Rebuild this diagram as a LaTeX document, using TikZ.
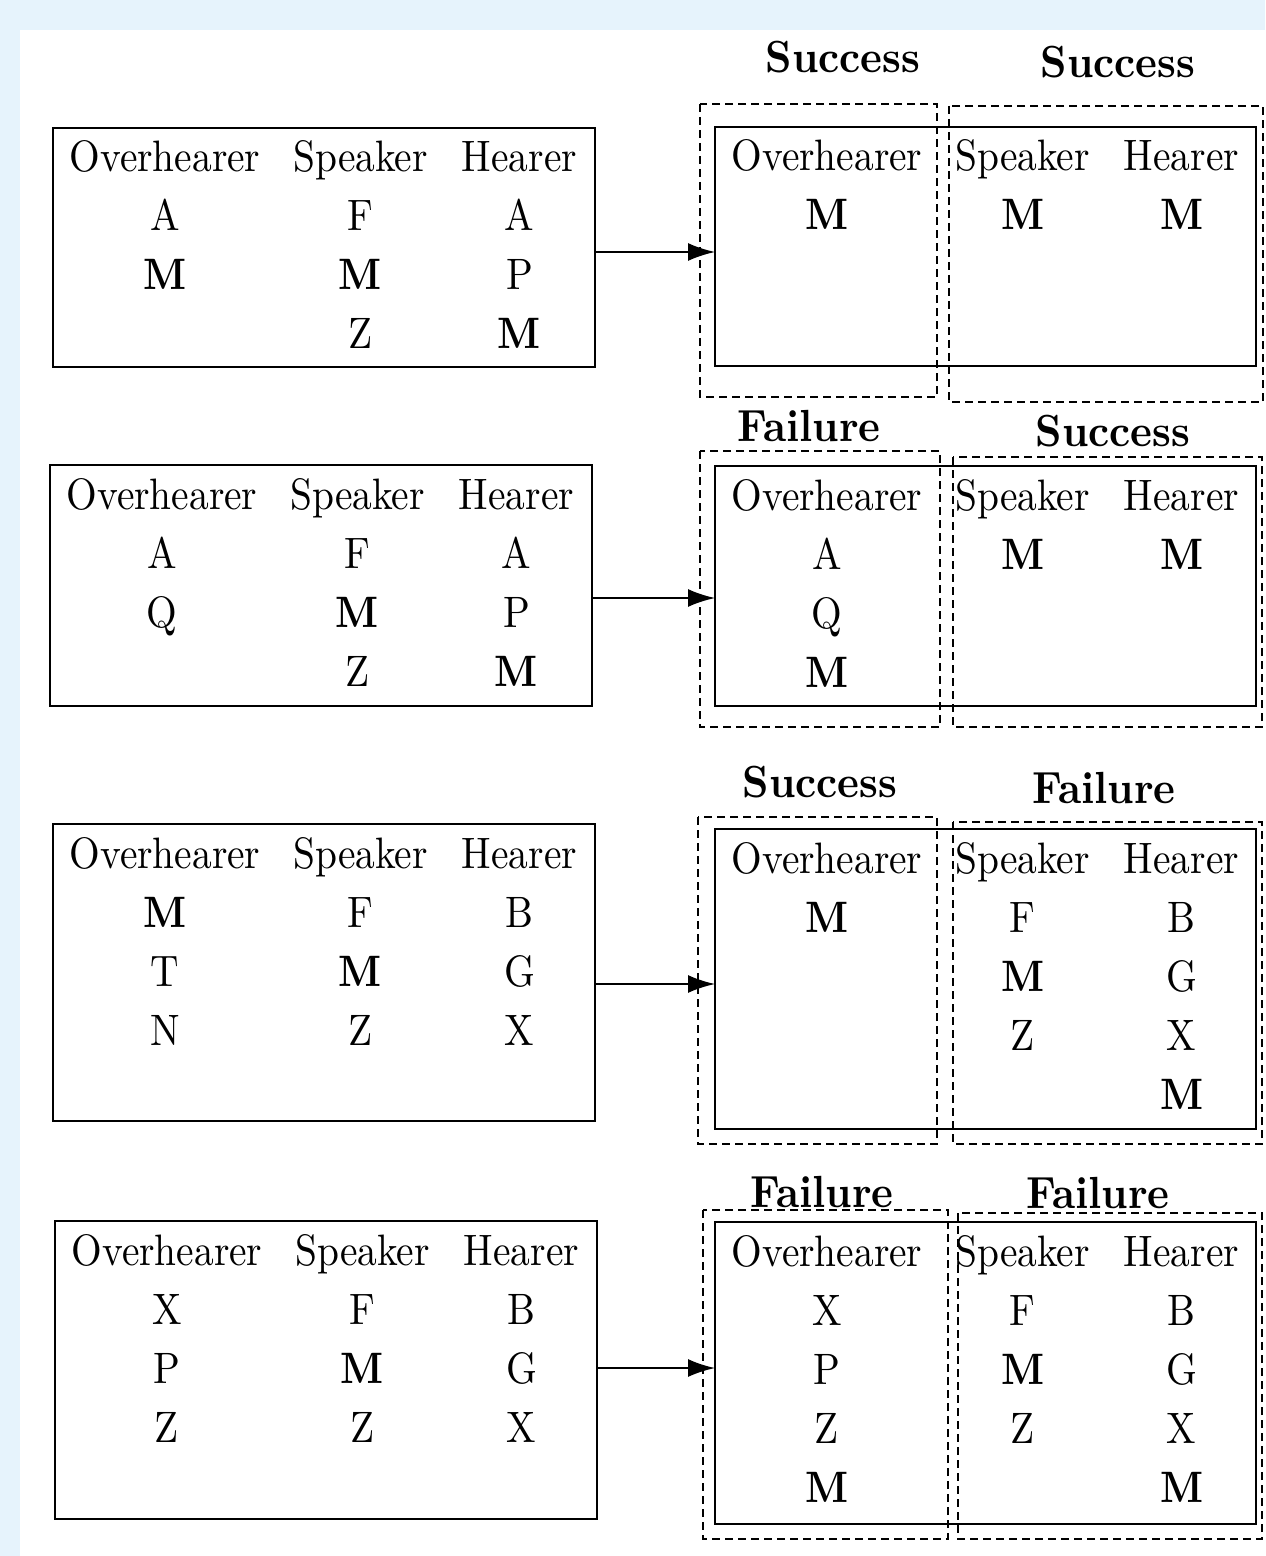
\documentclass[tikz,border=0pt]{standalone}
\usepackage{tikz}
\usetikzlibrary{arrows.meta,positioning}
\definecolor{pagebg}{HTML}{E6F3FC}

% text is set at 10pt and blown up, as in the screenshot
\newcommand{\tall}[1]{\scalebox{1.97}[2.2]{#1}}
\newcommand{\loud}[1]{\scalebox{2.07}[2.25]{\bfseries #1}}
% one column of a table, rows 59 apart below the header
\newcommand{\entries}[3]{\foreach \w [count=\i] in {#3} \node[cell] (#1\i) at (#2,{44+59*\i}) {\tall{\w}};}
\newcommand{\heads}[1]{\foreach \x/\w [count=\i] in {112/Overhearer,307.5/Speaker,466.5/Hearer} \node[cell] (#1h\i) at (\x,44) {\tall{\w}};}

\begin{document}
\begin{tikzpicture}[x=0.5pt,y=-0.5pt,font=\fontsize{10}{12}\selectfont,
	box/.style={draw,line width=1pt,inner sep=0pt,outer sep=0pt},
	part/.style={draw,line width=0.9pt,dash pattern=on 4pt off 2.5pt},
	cell/.style={anchor=base,inner sep=0pt},
	verdict/.style={anchor=base,inner sep=0pt},
	every edge/.style={draw,line width=1pt,-{Latex[length=13.5pt,width=9pt]}}]

	\fill[pagebg] (0,0) rectangle (1265,1556);
	\fill[white] (20,30) rectangle (1265,1556);
	\useasboundingbox (0,0) rectangle (1265,1556);

	% before
	\node[box,minimum width=271pt,minimum height=119.5pt] (t_1) at (324,247.5) {};
	\node[box,minimum width=271pt,minimum height=120.5pt] (t_2) at (321,585.5) {};
	\node[box,minimum width=271pt,minimum height=148.5pt] (t_3) at (324,972.5) {};
	\node[box,minimum width=271pt,minimum height=149pt] (t_4) at (326,1370) {};

	% after
	\node[box,minimum width=270.5pt,minimum height=119.5pt] (r_1) at (985.5,246.5) {};
	\node[box,minimum width=270.5pt,minimum height=120pt] (r_2) at (985.5,586) {};
	\node[box,minimum width=270.5pt,minimum height=150pt] (r_3) at (985.5,979) {};
	\node[box,minimum width=270.5pt,minimum height=151pt] (r_4) at (985.5,1373) {};

	\begin{scope}[shift={(53,128)}]
		\heads{t_1}
		\entries{t_1a}{112}{A,\textbf{M}}
		\entries{t_1b}{307.5}{F,\textbf{M},Z}
		\entries{t_1c}{466.5}{A,P,\textbf{M}}
	\end{scope}
	\begin{scope}[shift={(50,465)}]
		\heads{t_2}
		\entries{t_2a}{112}{A,Q}
		\entries{t_2b}{307.5}{F,\textbf{M},Z}
		\entries{t_2c}{466.5}{A,P,\textbf{M}}
	\end{scope}
	\begin{scope}[shift={(53,824)}]
		\heads{t_3}
		\entries{t_3a}{112}{\textbf{M},T,N}
		\entries{t_3b}{307.5}{F,\textbf{M},Z}
		\entries{t_3c}{466.5}{B,G,X}
	\end{scope}
	\begin{scope}[shift={(55,1221)}]
		\heads{t_4}
		\entries{t_4a}{112}{X,P,Z}
		\entries{t_4b}{307.5}{F,\textbf{M},Z}
		\entries{t_4c}{466.5}{B,G,X}
	\end{scope}

	\begin{scope}[shift={(715,127)}]
		\heads{r_1}
		\entries{r_1a}{112}{\textbf{M}}
		\entries{r_1b}{307.5}{\textbf{M}}
		\entries{r_1c}{466.5}{\textbf{M}}
	\end{scope}
	\begin{scope}[shift={(715,466)}]
		\heads{r_2}
		\entries{r_2a}{112}{A,Q,\textbf{M}}
		\entries{r_2b}{307.5}{\textbf{M}}
		\entries{r_2c}{466.5}{\textbf{M}}
	\end{scope}
	\begin{scope}[shift={(715,829)}]
		\heads{r_3}
		\entries{r_3a}{112}{\textbf{M}}
		\entries{r_3b}{307.5}{F,\textbf{M},Z}
		\entries{r_3c}{466.5}{B,G,X,\textbf{M}}
	\end{scope}
	\begin{scope}[shift={(715,1222)}]
		\heads{r_4}
		\entries{r_4a}{112}{X,P,Z,\textbf{M}}
		\entries{r_4b}{307.5}{F,\textbf{M},Z}
		\entries{r_4c}{466.5}{B,G,X,\textbf{M}}
	\end{scope}

	% overhearer part / speaker-hearer part
	\draw[part] (700,104) rectangle (937,397);
	\draw[part] (949,106) rectangle (1263,402);
	\draw[part] (700,451) rectangle (940,727);
	\draw[part] (953,457) rectangle (1262,727);
	\draw[part] (698,817) rectangle (937,1144);
	\draw[part] (953,822) rectangle (1262,1144);
	\draw[part] (703,1210) rectangle (948,1539);
	\draw[part] (958,1213) rectangle (1262,1539);

	\node[verdict] (o_1) at (843,73) {\loud{Success}};
	\node[verdict] (s_1) at (1118,78) {\loud{Success}};
	\node[verdict] (o_2) at (809,441) {\loud{Failure}};
	\node[verdict] (s_2) at (1113,446) {\loud{Success}};
	\node[verdict] (o_3) at (820,797) {\loud{Success}};
	\node[verdict] (s_3) at (1104,803) {\loud{Failure}};
	\node[verdict] (o_4) at (822,1207) {\loud{Failure}};
	\node[verdict] (s_4) at (1098,1208) {\loud{Failure}};

	\coordinate (a_1) at ([yshift=-2.25pt]t_1.east);
	\coordinate (a_2) at ([yshift=-6.25pt]t_2.east);
	\coordinate (a_3) at ([yshift=-5.75pt]t_3.east);
	\coordinate (a_4) at ([yshift=1pt]t_4.east);

	\path
	(a_1) edge (a_1 -| r_1.west)
	(a_2) edge (a_2 -| r_2.west)
	(a_3) edge (a_3 -| r_3.west)
	(a_4) edge (a_4 -| r_4.west);

\end{tikzpicture}
\end{document}
